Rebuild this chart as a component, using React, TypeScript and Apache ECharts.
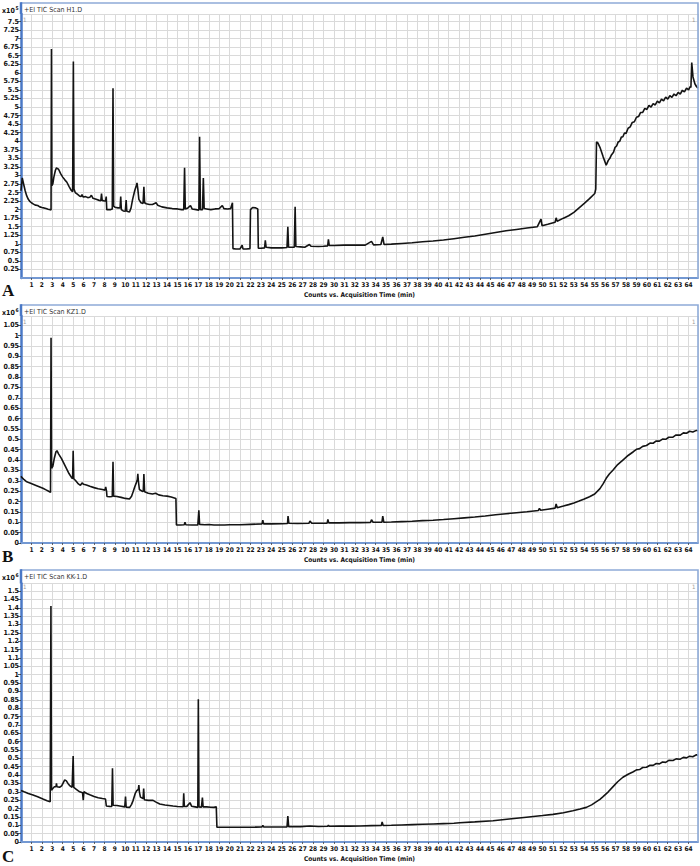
import React, { useEffect, useRef } from "react";
import * as echarts from "echarts";

// ---------- DATA (time in min, abundance in units of the panel's x10^n) ----------
const traceA: [number, number][] = [
  [0, 2.55], [0.12, 2.93], [0.25, 2.75], [0.4, 2.55], [0.55, 2.4], [0.7, 2.3], [0.85, 2.24], [1.0, 2.2],
  [1.2, 2.16], [1.4, 2.13], [1.6, 2.12], [1.8, 2.08], [2.0, 2.06], [2.2, 2.05], [2.4, 2.03], [2.6, 2.01],
  [2.8, 2.0], [2.88, 1.99], [2.92, 6.7], [2.96, 2.7], [3.05, 2.75], [3.15, 2.95], [3.3, 3.15], [3.4, 3.22],
  [3.5, 3.2], [3.6, 3.18], [3.8, 3.05], [4.0, 2.95], [4.2, 2.87], [4.4, 2.8], [4.6, 2.68], [4.8, 2.57],
  [4.95, 2.52], [5.02, 6.33], [5.08, 2.6], [5.2, 2.5], [5.4, 2.45], [5.6, 2.4], [5.75, 2.38], [5.85, 2.44],
  [5.95, 2.37], [6.2, 2.38], [6.4, 2.35], [6.6, 2.36], [6.75, 2.42], [6.9, 2.33], [7.2, 2.3], [7.5, 2.27],
  [7.65, 2.26], [7.72, 2.47], [7.78, 2.27], [8.0, 2.25], [8.1, 2.25], [8.17, 2.38], [8.22, 2.0], [8.4, 2.0],
  [8.6, 2.0], [8.75, 2.02], [8.82, 5.55], [8.88, 2.1], [9.0, 2.07], [9.3, 2.05], [9.5, 2.05], [9.56, 2.38],
  [9.62, 2.0], [9.8, 1.96], [10.0, 1.95], [10.08, 2.28], [10.14, 1.95], [10.4, 1.93], [10.55, 2.05],
  [10.7, 2.3], [10.9, 2.55], [11.05, 2.7], [11.12, 2.78], [11.2, 2.6], [11.3, 2.3], [11.5, 2.2],
  [11.7, 2.18], [11.78, 2.67], [11.85, 2.2], [12.0, 2.17], [12.3, 2.15], [12.6, 2.15], [12.95, 2.2],
  [13.1, 2.13], [13.5, 2.08], [14.0, 2.05], [14.5, 2.03], [15.0, 2.02], [15.4, 2.0], [15.6, 2.0],
  [15.68, 3.22], [15.75, 2.02], [16.0, 2.05], [16.25, 2.12], [16.4, 2.02], [16.8, 2.0], [17.05, 1.98],
  [17.12, 4.13], [17.2, 2.0], [17.4, 2.0], [17.48, 2.92], [17.56, 2.03], [17.8, 2.02], [18.2, 2.0],
  [18.6, 2.02], [19.0, 2.03], [19.3, 2.12], [19.45, 2.03], [19.8, 2.02], [20.1, 2.03], [20.27, 2.2],
  [20.32, 0.86], [20.6, 0.85], [21.0, 0.85], [21.2, 0.96], [21.28, 0.85], [21.6, 0.85], [21.95, 0.86],
  [22.0, 2.0], [22.2, 2.06], [22.5, 2.05], [22.7, 2.02], [22.75, 0.87], [23.0, 0.87], [23.35, 0.88],
  [23.42, 1.1], [23.5, 0.9], [24.0, 0.88], [24.5, 0.88], [25.0, 0.88], [25.5, 0.89], [25.58, 1.5],
  [25.65, 0.9], [26.0, 0.9], [26.2, 0.9], [26.28, 2.08], [26.35, 0.92], [26.8, 0.91], [27.2, 0.9],
  [27.65, 0.98], [27.8, 0.93], [28.5, 0.92], [29.0, 0.93], [29.4, 0.94], [29.47, 1.13], [29.55, 0.95],
  [30.0, 0.95], [31.0, 0.96], [32.0, 0.96], [33.0, 0.96], [33.6, 1.07], [33.8, 0.97], [34.5, 0.98],
  [34.68, 1.2], [34.8, 0.98], [35.5, 0.99], [36.5, 1.01], [37.5, 1.03], [38.5, 1.06], [39.5, 1.08],
  [40.5, 1.11], [41.5, 1.15], [42.5, 1.19], [43.5, 1.23], [44.5, 1.28], [45.5, 1.33], [46.5, 1.38],
  [47.5, 1.42], [48.5, 1.46], [49.5, 1.5], [49.85, 1.72], [49.95, 1.53], [50.5, 1.57], [51.2, 1.63],
  [51.3, 1.76], [51.4, 1.66], [52.0, 1.75], [52.5, 1.82], [53.0, 1.92], [53.5, 2.05], [54.0, 2.18],
  [54.5, 2.32], [55.0, 2.47], [55.1, 2.6], [55.17, 3.98], [55.3, 3.95], [55.5, 3.82], [55.8, 3.55],
  [56.1, 3.3], [56.3, 3.44], [56.45, 3.5], [56.6, 3.6], [56.8, 3.68], [56.95, 3.82], [57.1, 3.86],
  [57.25, 3.98], [57.4, 4.0], [57.55, 4.12], [57.7, 4.13], [57.85, 4.24], [58.0, 4.23], [58.2, 4.38],
  [58.4, 4.42], [58.6, 4.55], [58.8, 4.57], [59.0, 4.7], [59.2, 4.72], [59.4, 4.84], [59.6, 4.84],
  [59.8, 4.96], [60.0, 4.93], [60.2, 5.05], [60.4, 5.0], [60.6, 5.1], [60.8, 5.06], [61.0, 5.17],
  [61.2, 5.12], [61.4, 5.23], [61.6, 5.18], [61.8, 5.29], [62.0, 5.23], [62.2, 5.33], [62.4, 5.28],
  [62.6, 5.38], [62.8, 5.33], [63.0, 5.43], [63.2, 5.38], [63.4, 5.49], [63.6, 5.44], [63.8, 5.55],
  [64.0, 5.5], [64.15, 5.6], [64.22, 5.57], [64.3, 6.3], [64.42, 5.88], [64.6, 5.68], [64.75, 5.6],
  [64.9, 5.55],
];

const traceB: [number, number][] = [
  [0, 0.322], [0.1, 0.315], [0.3, 0.305], [0.5, 0.297], [0.8, 0.29], [1.15, 0.283], [1.5, 0.276],
  [1.8, 0.27], [2.1, 0.264], [2.4, 0.256], [2.7, 0.248], [2.83, 0.244], [2.88, 0.99], [2.93, 0.36],
  [3.05, 0.37], [3.2, 0.41], [3.35, 0.44], [3.45, 0.445], [3.6, 0.43], [3.87, 0.408], [4.1, 0.385],
  [4.35, 0.36], [4.6, 0.335], [4.85, 0.315], [4.95, 0.31], [5.0, 0.445], [5.06, 0.31], [5.25, 0.3],
  [5.5, 0.285], [5.7, 0.278], [5.85, 0.29], [6.0, 0.283], [6.27, 0.28], [6.6, 0.274], [7.0, 0.267],
  [7.4, 0.262], [7.8, 0.258], [8.05, 0.255], [8.12, 0.27], [8.2, 0.25], [8.24, 0.224], [8.5, 0.223],
  [8.75, 0.224], [8.82, 0.392], [8.88, 0.226], [9.2, 0.224], [9.6, 0.22], [10.0, 0.215], [10.4, 0.212],
  [10.6, 0.225], [10.75, 0.247], [10.9, 0.27], [11.05, 0.29], [11.15, 0.305], [11.2, 0.333],
  [11.25, 0.3], [11.35, 0.258], [11.6, 0.25], [11.72, 0.248], [11.78, 0.333], [11.85, 0.247],
  [12.2, 0.24], [12.6, 0.236], [12.9, 0.24], [13.2, 0.232], [13.6, 0.228], [14.0, 0.226], [14.4, 0.222],
  [14.85, 0.215], [14.9, 0.087], [15.3, 0.087], [15.65, 0.088], [15.72, 0.1], [15.8, 0.088],
  [16.4, 0.087], [16.95, 0.087], [17.05, 0.158], [17.12, 0.09], [17.6, 0.088], [18.0, 0.089],
  [18.5, 0.087], [19.0, 0.087], [19.5, 0.087], [20.0, 0.088], [21.0, 0.088], [22.0, 0.09], [23.1, 0.092],
  [23.18, 0.11], [23.26, 0.092], [24.0, 0.092], [25.0, 0.093], [25.55, 0.094], [25.6, 0.13],
  [25.68, 0.095], [26.5, 0.094], [27.6, 0.095], [27.7, 0.106], [27.85, 0.096], [28.8, 0.095],
  [29.35, 0.096], [29.42, 0.114], [29.5, 0.097], [30.5, 0.097], [31.5, 0.098], [32.5, 0.098],
  [33.5, 0.099], [33.6, 0.112], [33.75, 0.1], [34.6, 0.1], [34.68, 0.13], [34.78, 0.1], [35.5, 0.101],
  [36.5, 0.103], [37.5, 0.105], [38.5, 0.108], [39.5, 0.11], [40.5, 0.113], [41.5, 0.117],
  [42.5, 0.121], [43.5, 0.125], [44.5, 0.13], [45.5, 0.136], [46.5, 0.141], [47.5, 0.146],
  [48.5, 0.151], [49.6, 0.157], [49.7, 0.167], [49.8, 0.158], [50.5, 0.163], [51.2, 0.168],
  [51.3, 0.188], [51.4, 0.17], [52.0, 0.178], [52.5, 0.185], [53.0, 0.193], [53.5, 0.202],
  [54.0, 0.212], [54.5, 0.223], [55.0, 0.236], [55.5, 0.262], [55.8, 0.285], [56.1, 0.312],
  [56.4, 0.333], [56.76, 0.352], [57.2, 0.378], [57.7, 0.4], [58.2, 0.422], [58.7, 0.44],
  [59.0, 0.452], [59.3, 0.455], [59.6, 0.466], [59.96, 0.47], [60.3, 0.482], [60.6, 0.481],
  [60.9, 0.492], [61.2, 0.491], [61.5, 0.501], [61.8, 0.5], [62.1, 0.51], [62.5, 0.51],
  [62.8, 0.521], [63.2, 0.52], [63.5, 0.531], [63.8, 0.529], [64.1, 0.539], [64.4, 0.535],
  [64.75, 0.543], [64.9, 0.54],
];

const traceC: [number, number][] = [
  [0, 0.308], [0.3, 0.3], [0.7, 0.29], [1.15, 0.281], [1.6, 0.27], [2.1, 0.257], [2.5, 0.247],
  [2.8, 0.24], [2.83, 0.238], [2.87, 1.41], [2.92, 0.31], [3.05, 0.32], [3.2, 0.33], [3.35, 0.33],
  [3.4, 0.35], [3.45, 0.33], [3.7, 0.327], [3.9, 0.335], [4.19, 0.371], [4.35, 0.365], [4.5, 0.35],
  [4.7, 0.335], [4.9, 0.327], [4.95, 0.326], [5.0, 0.514], [5.06, 0.326], [5.3, 0.315], [5.63, 0.3],
  [5.9, 0.295], [5.97, 0.25], [6.03, 0.3], [6.3, 0.29], [6.6, 0.282], [7.0, 0.272], [7.4, 0.265],
  [7.8, 0.26], [8.1, 0.257], [8.18, 0.215], [8.5, 0.213], [8.7, 0.212], [8.77, 0.44], [8.83, 0.22],
  [9.2, 0.218], [9.6, 0.214], [9.95, 0.21], [10.02, 0.271], [10.08, 0.208], [10.42, 0.207],
  [10.6, 0.225], [10.75, 0.249], [10.95, 0.29], [11.1, 0.307], [11.25, 0.315], [11.3, 0.34],
  [11.35, 0.3], [11.45, 0.268], [11.7, 0.26], [11.76, 0.32], [11.82, 0.253], [12.2, 0.249],
  [12.66, 0.249], [12.9, 0.24], [13.3, 0.227], [13.8, 0.221], [14.57, 0.215], [15.0, 0.212],
  [15.55, 0.211], [15.6, 0.291], [15.66, 0.212], [15.9, 0.213], [16.2, 0.235], [16.35, 0.214],
  [16.7, 0.21], [16.95, 0.207], [17.0, 0.853], [17.06, 0.21], [17.3, 0.208], [17.39, 0.265],
  [17.46, 0.21], [17.8, 0.21], [18.2, 0.208], [18.5, 0.207], [18.72, 0.21], [18.78, 0.088],
  [19.5, 0.088], [20.5, 0.088], [21.5, 0.088], [22.5, 0.089], [23.1, 0.09], [23.18, 0.1], [23.26, 0.09],
  [24.5, 0.09], [25.5, 0.09], [25.58, 0.155], [25.66, 0.092], [26.8, 0.092], [27.7, 0.096],
  [28.5, 0.093], [29.4, 0.094], [29.47, 0.1], [29.55, 0.094], [30.5, 0.095], [31.5, 0.095],
  [32.5, 0.096], [33.6, 0.098], [34.55, 0.099], [34.62, 0.12], [34.72, 0.099], [35.5, 0.1],
  [36.5, 0.102], [37.5, 0.104], [38.5, 0.106], [39.5, 0.108], [40.5, 0.11], [41.5, 0.112],
  [42.06, 0.115], [43.5, 0.12], [45.25, 0.127], [46.8, 0.137], [48.45, 0.148], [50.0, 0.158],
  [51.0, 0.165], [52.0, 0.175], [52.9, 0.187], [53.6, 0.197], [54.2, 0.207], [54.7, 0.222],
  [55.17, 0.241], [55.5, 0.255], [55.8, 0.271], [56.3, 0.3], [56.76, 0.331], [57.2, 0.36],
  [57.7, 0.387], [58.2, 0.405], [58.7, 0.42], [59.0, 0.431], [59.3, 0.433], [59.6, 0.445],
  [59.96, 0.447], [60.3, 0.459], [60.6, 0.458], [60.9, 0.469], [61.2, 0.467], [61.5, 0.478],
  [61.8, 0.476], [62.1, 0.488], [62.5, 0.487], [62.8, 0.497], [63.2, 0.495], [63.5, 0.506],
  [63.8, 0.503], [64.1, 0.513], [64.4, 0.51], [64.75, 0.521], [64.9, 0.517],
];

const traces = [traceA, traceB, traceC];
const titles = ["+EI TIC Scan H1.D", "+EI TIC Scan KZ1.D", "+EI TIC Scan KK-1.D"];
const exponents = ["5", "6", "6"];
const panelLetters = ["A", "B", "C"];
const yTickSteps = [0.25, 0.05, 0.05];
const xAxisTitle = "Counts vs. Acquisition Time (min)";
const timeMax = 64.9;

// ---------- LAYOUT ----------
const panels = [
  { frameTop: 3, top: 14, bottom: 278, yMax: 7.72, letterY: 290, showZero: false },
  { frameTop: 305, top: 316, bottom: 543, yMax: 1.0945, letterY: 556, showZero: true },
  { frameTop: 570, top: 583.5, bottom: 842, yMax: 1.545, letterY: 856, showZero: true },
];
const LEFT = 21;
const RIGHT = 698;
const FONT = '"Liberation Sans Narrow", "Arial Narrow", "DejaVu Sans Condensed", "Liberation Sans", sans-serif';
const AXIS_BLUE = "#4a78c6";
const FRAME_BLUE = "#8eabd8";
const GRID_GRAY = "#dadada";

export default function App() {
  const ref = useRef<HTMLDivElement>(null);

  useEffect(() => {
    if (!ref.current) return;
    const chart = echarts.init(ref.current, undefined, { renderer: "svg" });

    const grids = panels.map((p) => ({
      left: LEFT,
      width: RIGHT - LEFT,
      top: p.top,
      height: p.bottom - p.top,
      containLabel: false,
    }));

    const xAxes = panels.map((p, i) => ({
      type: "value",
      gridIndex: i,
      min: 0,
      max: timeMax,
      interval: 1,
      axisLine: { show: true, onZero: false, lineStyle: { color: "#7398d2", width: 2 } },
      axisTick: { show: true, length: 2, lineStyle: { color: "#444", width: 0.8 } },
      axisLabel: {
        show: true,
        showMinLabel: false,
        showMaxLabel: false,
        fontSize: 6.5,
        fontWeight: "bold",
        fontFamily: FONT,
        color: "#111",
        margin: 3,
      },
      splitLine: { show: true, lineStyle: { color: GRID_GRAY, width: 1 } },
      name: xAxisTitle,
      nameLocation: "middle",
      nameGap: 13,
      nameTextStyle: { fontSize: 6.5, fontWeight: "bold", fontFamily: FONT, color: "#111" },
    }));

    const yAxes = panels.map((p, i) => ({
      type: "value",
      gridIndex: i,
      min: 0,
      max: p.yMax,
      interval: yTickSteps[i],
      axisLine: { show: true, onZero: false, lineStyle: { color: AXIS_BLUE, width: 2.5 } },
      axisTick: { show: true, length: 3, lineStyle: { color: "#333", width: 0.8 } },
      axisLabel: {
        show: true,
        showMinLabel: p.showZero,
        showMaxLabel: false,
        fontSize: 7,
        fontWeight: "bold",
        fontFamily: FONT,
        color: "#111",
        margin: 2,
      },
      splitLine: { show: true, lineStyle: { color: GRID_GRAY, width: 1 } },
    }));

    const series = traces.map((tr, i) => ({
      type: "line",
      xAxisIndex: i,
      yAxisIndex: i,
      data: tr,
      showSymbol: false,
      symbol: "none",
      clip: true,
      lineStyle: { color: "#141414", width: 1.6 },
      z: 3,
    }));

    const graphic: any[] = [];
    panels.forEach((p, i) => {
      graphic.push({
        type: "polyline",
        z: 5,
        shape: { points: [[LEFT, p.frameTop], [RIGHT, p.frameTop], [RIGHT, p.bottom]] },
        style: { stroke: FRAME_BLUE, lineWidth: 1.6, fill: "none" },
      });
      graphic.push({
        type: "line",
        z: 5,
        shape: { x1: LEFT, y1: p.frameTop - 0.8, x2: LEFT, y2: p.top },
        style: { stroke: AXIS_BLUE, lineWidth: 2.5 },
      });
      graphic.push({
        type: "text",
        z: 6,
        x: 24,
        y: p.frameTop + 6.5,
        style: { text: titles[i], fontSize: 7, fontFamily: FONT, fill: "#333", verticalAlign: "middle" },
      });
      graphic.push({
        type: "text",
        z: 6,
        x: 2,
        y: p.frameTop + 7.5,
        style: { text: "x10", fontSize: 7, fontWeight: "bold", fontFamily: FONT, fill: "#111", verticalAlign: "middle" },
      });
      graphic.push({
        type: "text",
        z: 6,
        x: 15.5,
        y: p.frameTop + 5,
        style: { text: exponents[i], fontSize: 5, fontWeight: "bold", fontFamily: FONT, fill: "#111", verticalAlign: "middle" },
      });
      graphic.push({
        type: "text",
        z: 6,
        x: 23,
        y: p.frameTop + 16,
        style: { text: "1", fontSize: 6, fontFamily: FONT, fill: "#999", verticalAlign: "middle" },
      });
      graphic.push({
        type: "text",
        z: 6,
        x: 692,
        y: p.frameTop + 16,
        style: { text: "1", fontSize: 6, fontFamily: FONT, fill: "#999", verticalAlign: "middle" },
      });
      graphic.push({
        type: "text",
        z: 6,
        x: 2,
        y: p.letterY,
        style: {
          text: panelLetters[i],
          fontSize: 17,
          fontWeight: "bold",
          fontFamily: '"Liberation Serif", "DejaVu Serif", serif',
          fill: "#111",
          verticalAlign: "middle",
        },
      });
    });

    chart.setOption({
      animation: false,
      backgroundColor: "#ffffff",
      grid: grids,
      xAxis: xAxes,
      yAxis: yAxes,
      series,
      graphic,
    } as any);

    return () => {
      chart.dispose();
    };
  }, []);

  return (
    <div
      ref={ref}
      style={{ position: "fixed", left: 0, top: 0, width: 700, height: 866, background: "#fff" }}
    />
  );
}
